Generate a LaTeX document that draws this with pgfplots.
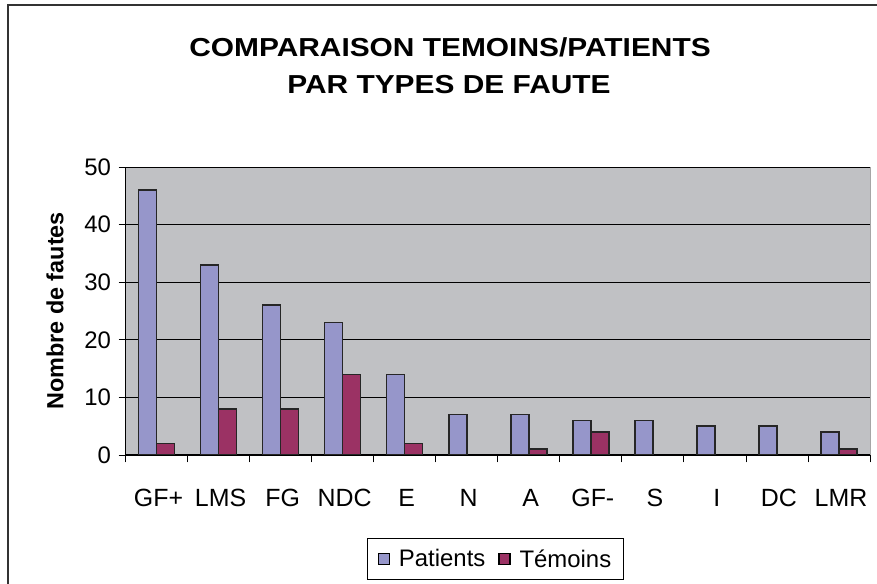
\documentclass[border=0pt]{standalone}
\usepackage{fontspec}
\setmainfont{Liberation Sans}
\usepackage{pgfplots}
\pgfplotsset{compat=1.18}
\definecolor{plotbg}{RGB}{192,193,196}
\definecolor{patc}{RGB}{150,150,202}
\definecolor{temc}{RGB}{155,50,100}
\begin{document}
\begin{tikzpicture}[x=1bp,y=1bp]
\useasboundingbox (0,0) rectangle (877,584);
\draw[line width=1.5bp, black!80] (8,0) -- (8,579) -- (877,579);
\node[font=\bfseries\fontsize{30}{36}\selectfont, inner sep=0pt] at (450bp,537bp) {\scalebox{1}[0.87]{COMPARAISON TEMOINS/PATIENTS}};
\node[font=\bfseries\fontsize{30}{36}\selectfont, inner sep=0pt] at (449bp,499bp) {\scalebox{1}[0.87]{PAR TYPES DE FAUTE}};
\begin{axis}[
  at={(125.5bp,129bp)}, anchor=south west,
  scale only axis, width=744.5bp, height=288bp,
  xmin=-0.5, xmax=11.5, ymin=0, ymax=50,
  axis background/.style={fill=plotbg, draw=gray!70},
  axis x line*=bottom, axis y line*=left,
  axis line style={black, line width=1bp},
  xtick={0,...,11},
  xticklabels={GF+,LMS,FG,NDC,E,N,A,GF-,S,I,DC,LMR},
  major x tick style={draw=none},
  minor xtick={-0.5,0.5,...,11.5},
  minor x tick style={black, line width=0.8bp},
  minor tick length=7.5bp,
  ytick={0,10,...,50},
  major tick length=7bp,
  ytick style={black, line width=0.8bp},
  tick align=outside,
  ymajorgrids, grid style={black, line width=0.8bp},
  yticklabel style={font=\fontsize{24}{28}\selectfont, xshift=-4bp},
  xticklabel style={font=\fontsize{25}{30}\selectfont, anchor=north, text height=17.9bp, text depth=0pt, inner ysep=0pt, yshift=-26bp, xshift=2bp},
  /pgf/number format/assume math mode=true,
  ylabel={Nombre de fautes},
  ylabel style={font=\bfseries\fontsize{23.5}{28}\selectfont, at={(axis description cs:-0.0947,0.5)}, anchor=center},
  legend style={at={(0.497,-0.361)}, anchor=center, legend columns=2, draw=black, line width=0.8bp,
     inner xsep=10bp, inner ysep=9bp,
     font=\fontsize{24}{28}\selectfont,
     /tikz/every even column/.append style={column sep=11bp},
     /tikz/every odd column/.append style={column sep=7bp}},
  legend image code/.code={\draw[#1, draw=black, line width=1.2bp] (0bp,-5.5bp) rectangle (11bp,5.5bp);},
]
\addplot[ybar, bar width=18bp, bar shift=-9bp, fill=patc, draw=black!85, line width=1.6bp]
  coordinates {(0,46) (1,33) (2,26) (3,23) (4,14) (5,7) (6,7) (7,6) (8,6) (9,5) (10,5) (11,4)};
\addlegendentry{Patients}
\addplot[ybar, bar width=18bp, bar shift=9bp, fill=temc, draw=black!85, line width=1.6bp]
  coordinates {(0,2) (1,8) (2,8) (3,14) (4,2) (6,1) (7,4) (11,1)};
\addlegendentry{Témoins}
\end{axis}
\end{tikzpicture}
\end{document}
